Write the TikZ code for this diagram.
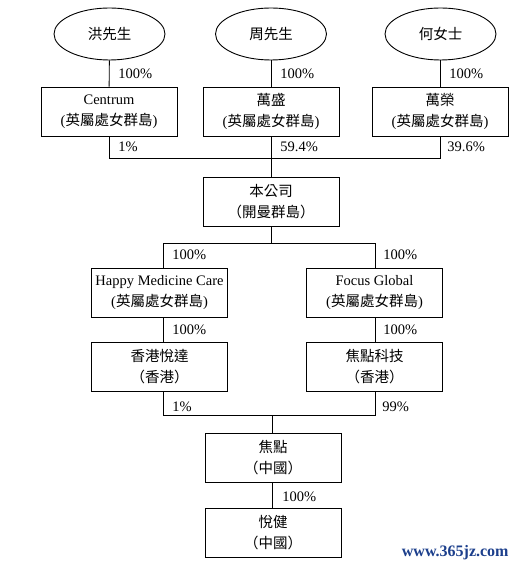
\documentclass[tikz,border=0pt]{standalone}
\usepackage{fontspec}
\setmainfont{Liberation Serif}
\newfontfamily\cjk{Noto Sans CJK TC}
\usetikzlibrary{shapes.geometric}
\definecolor{wm}{HTML}{1C3F8C}
\begin{document}
\begin{tikzpicture}[x=1pt,y=-1pt,line width=0.9pt,
  every node/.style={font=\fontsize{14.5}{21}\selectfont},
  person/.style={draw,ellipse,minimum width=111pt,minimum height=52pt,inner sep=0pt},
  co/.style={draw,rectangle,minimum width=136pt,minimum height=49pt,align=center,inner sep=0pt},
  pct/.style={anchor=west,inner sep=0pt}]
\useasboundingbox (0,0) rectangle (516,569);
% shareholders
\node[person] (hong) at (109.5,34) {\cjk 洪先生};
\node[person] (zhou) at (271,34) {\cjk 周先生};
\node[person] (he) at (440.5,34) {\cjk 何女士};
% BVI holding companies
\node[co] (centrum) at (109,111.5) {Centrum\\({\cjk 英屬處女群島})};
\node[co] (wansheng) at (271,111.5) {{\cjk 萬盛}\\({\cjk 英屬處女群島})};
\node[co] (wanrong) at (440,111.5) {{\cjk 萬榮}\\({\cjk 英屬處女群島})};
% company
\node[co] (company) at (271,201.5) {{\cjk 本公司}\\{\cjk （開曼群島）}};
% subsidiaries
\node[co] (hmc) at (159.5,292.5) {Happy Medicine Care\\({\cjk 英屬處女群島})};
\node[co] (focus) at (374.5,292.5) {Focus Global\\({\cjk 英屬處女群島})};
\node[co] (hkyd) at (159.5,366.5) {{\cjk 香港悅達}\\{\cjk （香港）}};
\node[co] (jdkj) at (374.5,366.5) {{\cjk 焦點科技}\\{\cjk （香港）}};
\node[co] (jd) at (273,458) {{\cjk 焦點}\\{\cjk （中國）}};
\node[co] (yj) at (273,533) {{\cjk 悅健}\\{\cjk （中國）}};
% junctions
\coordinate (j1) at (271,158);
\coordinate (j2) at (271,243);
\coordinate (l2) at (163,243);
\coordinate (r2) at (375,243);
\coordinate (j3) at (272,415);
\coordinate (l3) at (163,415);
\coordinate (r3) at (375,415);
% connectors
\draw (hong) -- (centrum);
\draw (zhou) -- (wansheng);
\draw (he.south) -- (wanrong.north -| he.south);
\draw (centrum.south) |- (j1);
\draw (wanrong.south) |- (j1);
\draw (wansheng.south) -- (company.north);
\draw (company.south) -- (j2);
\draw (l2) -- (r2);
\draw (l2) -- (hmc.north -| l2);
\draw (r2) -- (focus.north -| r2);
\draw (hmc.south -| l2) -- (hkyd.north -| l2);
\draw (focus.south -| r2) -- (jdkj.north -| r2);
\draw (hkyd.south -| l3) -- (l3) -- (r3) -- (jdkj.south -| r3);
\draw (j3) -- (jd.north -| j3);
\draw (jd.south -| j3) -- (yj.north -| j3);
% percentages
\node[pct] (p1) at (118,74) {100\%};
\node[pct] (p2) at (280,74) {100\%};
\node[pct] (p3) at (449,74) {100\%};
\node[pct] (p4) at (118,147) {1\%};
\node[pct] (p5) at (280,147) {59.4\%};
\node[pct] (p6) at (447,147) {39.6\%};
\node[pct] (p7) at (172,255) {100\%};
\node[pct] (p8) at (383,255) {100\%};
\node[pct] (p9) at (172,330) {100\%};
\node[pct] (p10) at (383,330) {100\%};
\node[pct] (p11) at (172,407) {1\%};
\node[pct] (p12) at (382,407) {99\%};
\node[pct] (p13) at (282,497) {100\%};
% watermark
\node[anchor=east,inner sep=0pt,text=wm,font=\fontsize{16}{16}\selectfont\bfseries] (wmk) at (509,553) {www.365jz.com};
\end{tikzpicture}
\end{document}
